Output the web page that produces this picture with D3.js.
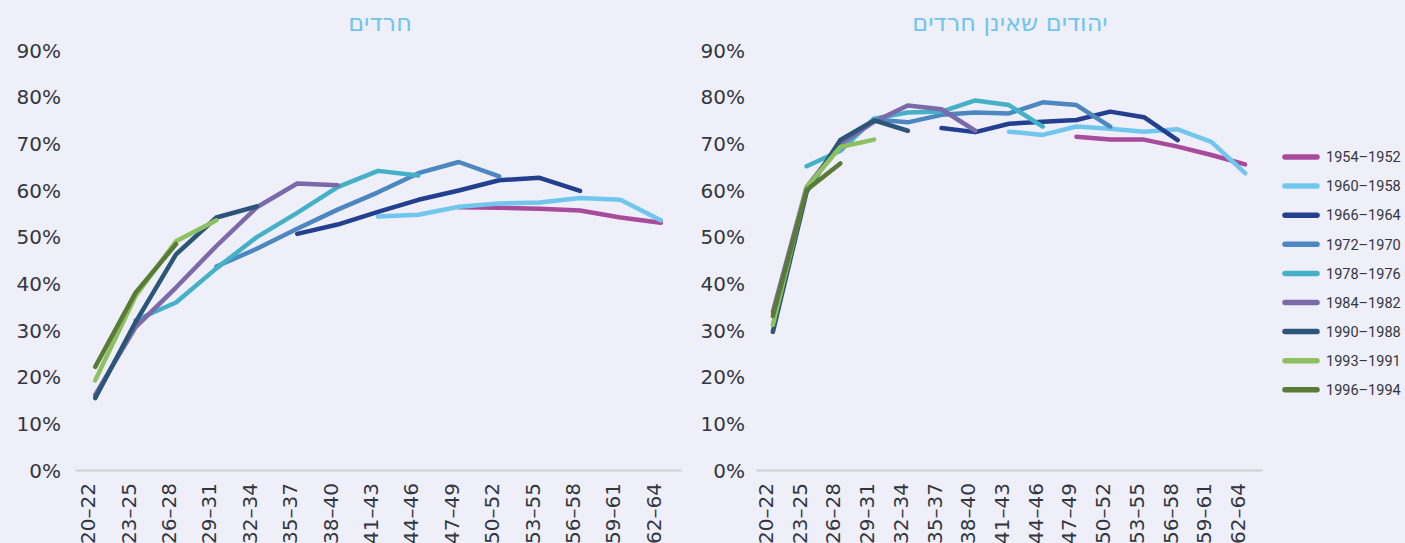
<!DOCTYPE html>
<html>
<head>
<meta charset="utf-8">
<script src="https://cdn.jsdelivr.net/npm/d3@7/dist/d3.min.js"></script>
<style>
  html, body { margin: 0; padding: 0; background: #EEEFF8; }
  svg { display: block; }
  text { font-family: "DejaVu Sans", "Liberation Sans", sans-serif; }
</style>
</head>
<body>
<svg id="chart" width="1405" height="543"></svg>
<script>
// ---- Data ----
const categories = ["20–22","23–25","26–28","29–31","32–34","35–37","38–40","41–43","44–46","47–49","50–52","53–55","56–58","59–61","62–64"];
const seriesNames = ["1954–1952","1960–1958","1966–1964","1972–1970","1978–1976","1984–1982","1990–1988","1993–1991","1996–1994"];
const seriesColors = ["#A94B9C","#71C6EE","#22408F","#4C87C1","#45B1C9","#7C69AA","#2B5579","#8DC061","#5A7A37"];
const yTicks = [0, 0.1, 0.2, 0.3, 0.4, 0.5, 0.6, 0.7, 0.8, 0.9];
const titleHaredi = "חרדים";
const titleNonHaredi = "יהודים שאינן חרדים";

// Haredi (left panel)
const haredi1954 = [null,null,null,null,null,null,null,null,null,0.563,0.562,0.560,0.556,0.541,0.530];
const haredi1960 = [null,null,null,null,null,null,null,0.543,0.547,0.564,0.571,0.573,0.583,0.579,0.535];
const haredi1966 = [null,null,null,null,null,0.506,0.526,0.553,0.579,0.599,0.621,0.626,0.598,null,null];
const haredi1972 = [null,null,null,0.436,0.474,0.517,0.558,0.595,0.636,0.660,0.629,null,null,null,null];
const haredi1978 = [null,0.321,0.359,0.432,0.499,0.551,0.606,0.641,0.631,null,null,null,null,null,null];
const haredi1984 = [0.161,0.306,0.391,0.480,0.563,0.614,0.610,null,null,null,null,null,null,null,null];
const haredi1990 = [0.154,0.317,0.462,0.541,0.565,null,null,null,null,null,null,null,null,null,null];
const haredi1993 = [0.192,0.373,0.490,0.535,null,null,null,null,null,null,null,null,null,null,null];
const haredi1996 = [0.221,0.380,0.484,null,null,null,null,null,null,null,null,null,null,null,null];

// Non-Haredi Jewish (right panel)
const nonHaredi1954 = [null,null,null,null,null,null,null,null,null,0.714,0.708,0.708,0.693,0.675,0.655];
const nonHaredi1960 = [null,null,null,null,null,null,null,0.725,0.718,0.736,0.731,0.725,0.730,0.703,0.636];
const nonHaredi1966 = [null,null,null,null,null,0.733,0.724,0.742,0.746,0.750,0.768,0.756,0.707,null,null];
const nonHaredi1972 = [null,null,null,0.751,0.745,0.761,0.766,0.764,0.788,0.782,0.736,null,null,null,null];
const nonHaredi1978 = [null,0.651,0.684,0.753,0.766,0.768,0.792,0.782,0.736,null,null,null,null,null,null];
const nonHaredi1984 = [0.339,0.606,0.699,0.746,0.781,0.773,0.727,null,null,null,null,null,null,null,null];
const nonHaredi1990 = [0.296,0.596,0.707,0.749,0.727,null,null,null,null,null,null,null,null,null,null];
const nonHaredi1993 = [0.311,0.606,0.692,0.708,null,null,null,null,null,null,null,null,null,null,null];
const nonHaredi1996 = [0.330,0.600,0.657,null,null,null,null,null,null,null,null,null,null,null,null];

const hardiSeries = [haredi1954,haredi1960,haredi1966,haredi1972,haredi1978,haredi1984,haredi1990,haredi1993,haredi1996];
const nonHardiSeries = [nonHaredi1954,nonHaredi1960,nonHaredi1966,nonHaredi1972,nonHaredi1978,nonHaredi1984,nonHaredi1990,nonHaredi1993,nonHaredi1996];

// ---- Drawing ----
const svg = d3.select("#chart");
const yTop = 50, yBottom = 470;
const textColor = "#33363F";

function panel(x0, x1, labelPad, title, titleX, series) {
  const g = svg.append("g");
  const x = d3.scaleBand().domain(categories).range([x0, x1]).padding(0);
  const y = d3.scaleLinear().domain([0, 0.9]).range([yBottom, yTop]);

  // y axis (labels only)
  const yAxis = d3.axisLeft(y).tickValues(yTicks).tickSize(0).tickPadding(labelPad)
    .tickFormat(d3.format(".0%"));
  const ya = g.append("g").attr("transform", `translate(${x0},0)`).call(yAxis);
  ya.select(".domain").remove();
  ya.selectAll("text").attr("fill", textColor).style("font-size", "20px")
    .style("font-family", "'DejaVu Sans', sans-serif").attr("dy", "0.36em");

  // x axis
  const xAxis = d3.axisBottom(x).tickSize(0).tickPadding(0);
  const xa = g.append("g").attr("transform", `translate(0,${yBottom})`).call(xAxis);
  xa.select(".domain").attr("stroke", "#D0D0D2").attr("stroke-width", 2);
  xa.selectAll(".tick text")
    .attr("fill", textColor).style("font-size", "20px")
    .style("font-family", "'DejaVu Sans', sans-serif")
    .attr("text-anchor", "end").attr("dy", 0).attr("y", 0)
    .attr("transform", "translate(0,13) rotate(-90)");

  // lines
  const line = d3.line()
    .defined(d => d != null)
    .x((d, i) => x(categories[i]) + x.bandwidth() / 2)
    .y(d => y(d));
  series.forEach((s, k) => {
    g.append("path")
      .datum(s)
      .attr("fill", "none")
      .attr("stroke", seriesColors[k])
      .attr("stroke-width", 4.5)
      .attr("stroke-linecap", "round")
      .attr("stroke-linejoin", "round")
      .attr("d", line);
  });

  // title
  g.append("text")
    .attr("x", titleX).attr("y", 31)
    .attr("text-anchor", "middle")
    .attr("fill", "#6EC5EE")
    .style("font-size", "24px")
    .style("font-family", "'DejaVu Sans', 'Liberation Sans', sans-serif")
    .text(title);
}

panel(75, 681, 14, titleHaredi, 380, hardiSeries);
panel(756, 1262, 11, titleNonHaredi, 1010, nonHardiSeries);

// legend
const legend = svg.append("g");
seriesNames.forEach((name, k) => {
  const yy = 157 + k * 29.1;
  legend.append("line")
    .attr("x1", 1285).attr("x2", 1317).attr("y1", yy).attr("y2", yy)
    .attr("stroke", seriesColors[k]).attr("stroke-width", 5.5).attr("stroke-linecap", "round");
  legend.append("text")
    .attr("x", 1326).attr("y", yy).attr("dy", "0.36em")
    .attr("fill", textColor).style("font-size", "14.5px")
    .style("font-family", "Roboto, 'Liberation Sans', sans-serif")
    .text(name);
});
</script>
</body>
</html>
